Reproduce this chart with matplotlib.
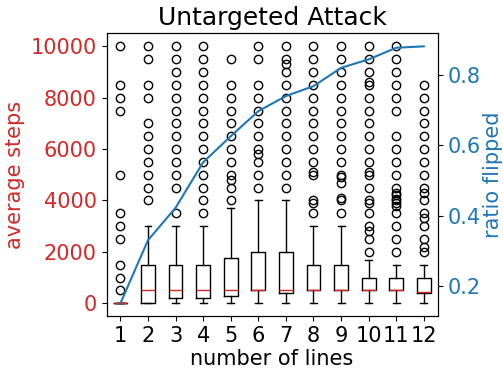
import matplotlib
matplotlib.use('Agg')
import matplotlib.pyplot as plt

plt.rcParams['font.family'] = 'DejaVu Sans'
plt.rcParams['font.size'] = 15

# number of lines on the x axis
n_lines = [1, 2, 3, 4, 5, 6, 7, 8, 9, 10, 11, 12]

# box statistics of average steps
q1 = [0, 0, 200, 200, 300, 500, 400, 500, 500, 500, 500, 400]
med = [0, 500, 500, 500, 500, 500, 500, 500, 500, 500, 500, 450]
q3 = [0, 1500, 1500, 1500, 1750, 2000, 2000, 1500, 1500, 1000, 1000, 1000]
whislo = [0, 0, 0, 0, 0, 0, 0, 0, 0, 0, 0, 0]
whishi = [0, 3000, 3000, 3000, 3700, 4000, 4000, 3000, 3000, 1700, 1500, 1500]
fliers = [
    [10000, 8500, 8000, 7500, 5000, 3500, 3000, 2500, 1500, 1000, 500],
    [10000, 9500, 8500, 8000, 7000, 6500, 6000, 5500, 5000, 4500, 4000],
    [10000, 9500, 9000, 8500, 8000, 7500, 7000, 6500, 6000, 5500, 5000, 4500, 3500],
    [10000, 9500, 9000, 8500, 8000, 7500, 7000, 6500, 6000, 5500, 5000, 4500, 4000, 3500],
    [9500, 8500, 8000, 7500, 7000, 6500, 6000, 5500, 5000, 4800, 4500, 4000],
    [10000, 9500, 8500, 8000, 7500, 7000, 6500, 6000, 5800, 5500, 5000, 4500],
    [10000, 9500, 9300, 9000, 8500, 8000, 7500, 7000, 6500, 6000, 5500, 5000, 4500],
    [10000, 9500, 9000, 8500, 8000, 7500, 7000, 6500, 6000, 5500, 5100, 5000, 4000, 3900, 3500],
    [10000, 9500, 9000, 8500, 8000, 7500, 7000, 6500, 6000, 5500, 5000, 4900, 4700, 4100, 4000, 3500],
    [10000, 9500, 9000, 8600, 8500, 8000, 7500, 7000, 6500, 6000, 5500, 5100, 5000, 4500, 4000,
     3900, 3500, 3000, 2800, 2500, 2000],
    [10000, 9500, 9000, 8500, 8000, 7500, 6500, 6000, 5500, 5000, 4500, 4300, 4200, 4050, 4000,
     3900, 3800, 3500, 3000, 2500, 2000],
    [8500, 8000, 7500, 7000, 6500, 6000, 5500, 5000, 4500, 4300, 4000, 3500, 3300, 3000, 2500,
     2200, 2000],
]

# ratio flipped (right axis)
ratio = [0.151, 0.330, 0.422, 0.551, 0.625, 0.696, 0.739, 0.767, 0.819, 0.843, 0.876, 0.880]

stats = []
for i in range(len(n_lines)):
    stats.append({'q1': q1[i], 'med': med[i], 'q3': q3[i],
                  'whislo': whislo[i], 'whishi': whishi[i], 'fliers': fliers[i]})

fig = plt.figure(figsize=(5.03, 3.68), dpi=100)
ax = fig.add_axes([0.212, 0.141, 0.658, 0.768])

ax.bxp(stats, positions=n_lines, widths=0.5,
       medianprops=dict(color='#d62728', linewidth=1),
       flierprops=dict(marker='o', markerfacecolor='none', markeredgecolor='black'))
ax.set_xlabel('number of lines', labelpad=2)
ax.set_ylabel('average steps', color='tab:red')
ax.tick_params(axis='y', labelcolor='tab:red')
ax.set_title('Untargeted Attack', fontsize=18)

ax2 = ax.twinx()
ax2.plot(n_lines, ratio, color='tab:blue')
ax2.set_ylabel('ratio flipped', color='tab:blue', labelpad=2)
ax2.tick_params(axis='y', labelcolor='tab:blue')

fig.savefig('out.png', dpi=100)
